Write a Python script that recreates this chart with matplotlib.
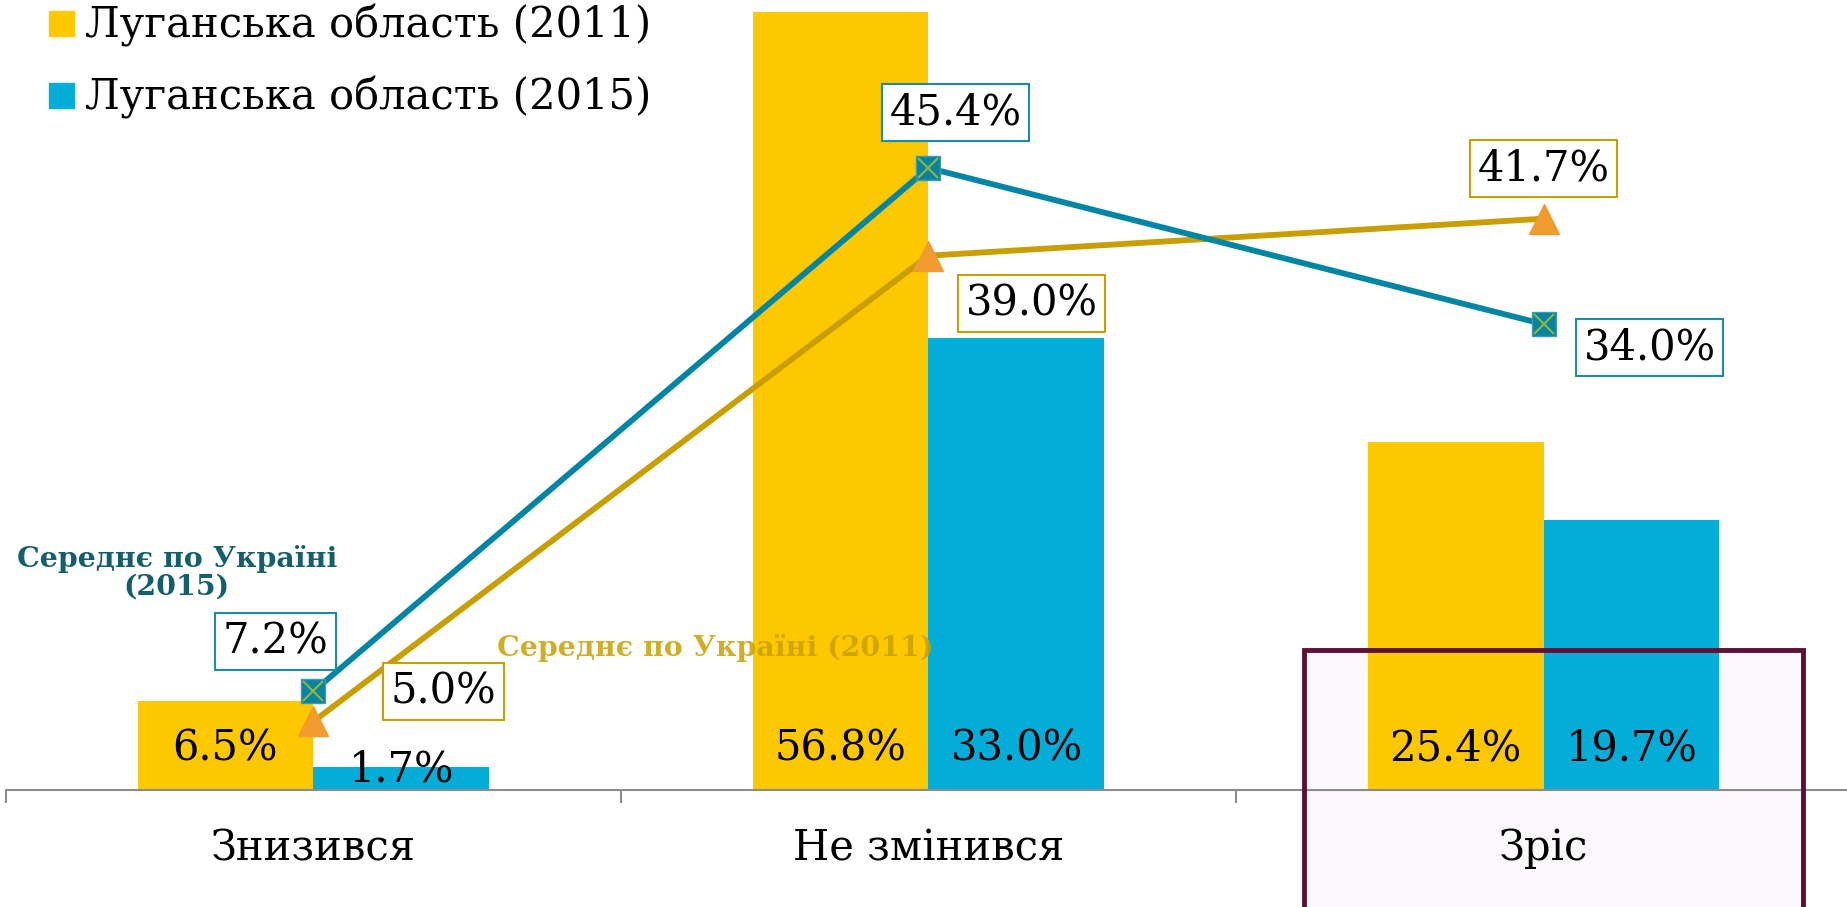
import matplotlib.pyplot as plt
from matplotlib.lines import Line2D
from matplotlib.patches import Rectangle

categories = ["Знизився", "Не змінився", "Зріс"]
luhansk_2011 = [6.5, 56.8, 25.4]
luhansk_2015 = [1.7, 33.0, 19.7]
ukraine_2011 = [5.0, 39.0, 41.7]
ukraine_2015 = [7.2, 45.4, 34.0]
legend_labels = ["Луганська область (2011)", "Луганська область (2015)"]
note_2015 = "Середнє по Україні\n(2015)"
note_2011 = "Середнє по Україні (2011)"

YELLOW = "#FEC800"
BLUE = "#04ADD8"
TEAL = "#0085A4"
GOLD = "#C89E00"

plt.rcParams['font.family'] = ['DejaVu Serif']

fig = plt.figure(figsize=(18.47, 9.07), dpi=100)
ax = fig.add_axes([0.0032, 0.129, 0.999, 0.871])

x = list(range(len(categories)))
w = 0.286
ax.bar([i - w / 2 for i in x], luhansk_2011, w, color=YELLOW, zorder=2)
ax.bar([i + w / 2 for i in x], luhansk_2015, w, color=BLUE, zorder=2)

# bar labels sit near the base
for i, v in enumerate(luhansk_2011):
    ax.text(i - w / 2, 3.0 if v > 3 else v * 0.86, f"{v:.1f}%", ha="center", va="center", fontsize=30, zorder=6)
for i, v in enumerate(luhansk_2015):
    ax.text(i + w / 2, 3.0 if v > 3 else v * 0.86, f"{v:.1f}%", ha="center", va="center", fontsize=30, zorder=6)

# Ukraine averages
ax.plot(x, ukraine_2011, color=GOLD, lw=4.2, zorder=4)
ax.plot(x, ukraine_2011, ls="none", marker="^", ms=21, color="#F19B30", zorder=5)
ax.plot(x, ukraine_2015, color=TEAL, lw=4.2, zorder=4.5)
ax.plot(x, ukraine_2015, ls="none", marker="s", ms=17, mfc="#0A83A0", mec="#3E9AAE", mew=1, zorder=6)
ax.plot(x, ukraine_2015, ls="none", marker="x", ms=15, color="#95BA3A", mew=1.4, zorder=7)

off_2015 = [(-38, 50), (27, 55), (106, -23)]
off_2011 = [(130, 30), (103, -48), (0, 50)]
for i, v in enumerate(ukraine_2015):
    ax.annotate(f"{v:.1f}%", xy=(i, v), xytext=off_2015[i], textcoords="offset pixels",
                ha="center", va="center", fontsize=30, zorder=8,
                bbox=dict(boxstyle="square,pad=0.18", fc="white", ec="#1B8BAA", lw=1.5))
for i, v in enumerate(ukraine_2011):
    ax.annotate(f"{v:.1f}%", xy=(i, v), xytext=off_2011[i], textcoords="offset pixels",
                ha="center", va="center", fontsize=30, zorder=8,
                bbox=dict(boxstyle="square,pad=0.18", fc="white", ec="#C9A000", lw=1.5))

ax.text(-0.222, 15.84, note_2015, ha="center", va="center", fontsize=20.5, fontweight="bold",
        color="#135E6F", linespacing=1.0, zorder=6)
ax.text(0.653, 10.36, note_2011, ha="center", va="center", fontsize=20.5, fontweight="bold",
        color="#C9A000", alpha=0.85, zorder=6)

# highlight box around the last category
ax.add_patch(Rectangle((1.611, -30), 0.811, 40.2, fc="#FAF8FA", ec="none", zorder=0.5, clip_on=False))
ax.add_patch(Rectangle((1.611, -30), 0.811, 40.2, fill=False, ec="#5E1035", lw=3.5, zorder=3, clip_on=False))

ax.set_xlim(-0.5, 2.5)
ax.set_ylim(0, 57.66)
for s in ["left", "right", "top"]:
    ax.spines[s].set_visible(False)
ax.spines["bottom"].set_color("#8C8C8C")
ax.spines["bottom"].set_linewidth(1.5)
ax.set_yticks([])
ax.set_xticks([-0.5, 0.5, 1.5, 2.5])
ax.set_xticklabels([])
ax.tick_params(axis="x", which="major", length=9, width=1.5, color="#8C8C8C")
ax.set_xticks(x, minor=True)
ax.set_xticklabels(categories, minor=True, fontsize=30)
ax.tick_params(axis="x", which="minor", length=0, pad=27)

handles = [Line2D([], [], ls="none", marker="s", ms=18, color=YELLOW),
           Line2D([], [], ls="none", marker="s", ms=18, color=BLUE)]
ax.legend(handles, legend_labels, loc="upper left", bbox_to_anchor=(0.0233, 0.995), frameon=False,
          fontsize=30, handlelength=0.6, handletextpad=0.27, labelspacing=0.7, borderaxespad=0, borderpad=0)

fig.savefig("out.png", dpi=100)
